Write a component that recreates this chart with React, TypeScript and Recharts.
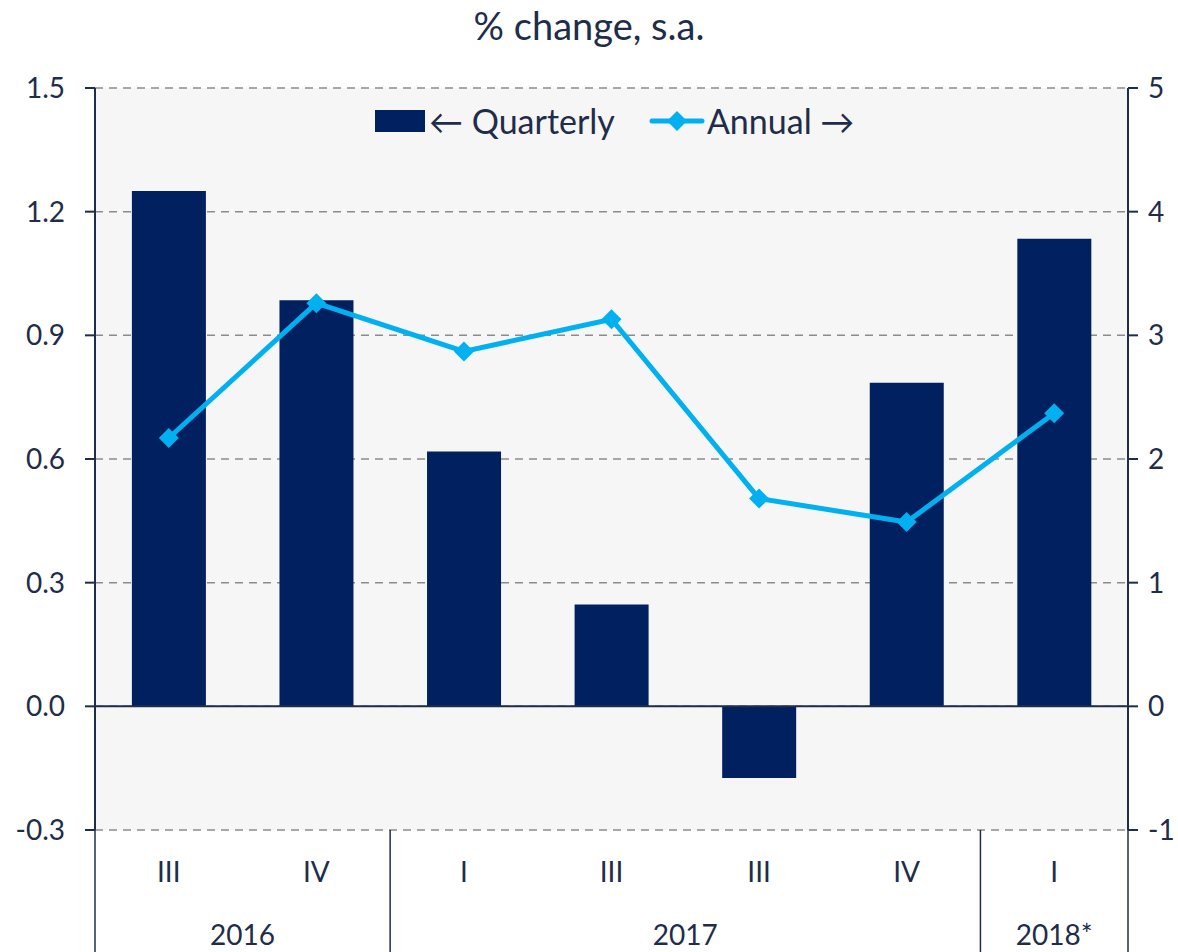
import React from 'react'
import {
  ComposedChart,
  Bar,
  Line,
  XAxis,
  YAxis,
  CartesianGrid,
  ReferenceLine,
} from 'recharts'

const quarters = ['III', 'IV', 'I', 'III', 'III', 'IV', 'I']
const quarterly = [1.25, 0.985, 0.618, 0.247, -0.174, 0.785, 1.134]
const annual = [2.17, 3.26, 2.87, 3.13, 1.68, 1.49, 2.37]
const years = [
  { label: '2016', start: 0, count: 2 },
  { label: '2017', start: 2, count: 4 },
  { label: '2018*', start: 6, count: 1 },
]
const leftTicks = [-0.3, 0, 0.3, 0.6, 0.9, 1.2, 1.5]
const rightTicks = [-1, 0, 1, 2, 3, 4, 5]

const data = quarters.map((q, i) => ({
  key: `${q}-${i}`,
  quarter: q,
  quarterly: quarterly[i],
  annual: annual[i],
}))

const FONT = 'Lato, "Open Sans", sans-serif'
const TEXT = '#1f2d4a'
const NAVY = '#002060'
const CYAN = '#00b0f0'
const AXIS = '#1f2d4a'

const CHART_W = 1178
const CHART_H = 952
const BANDS = quarters.length

function CategoryTick(props: any) {
  const { x, y, index } = props
  const band = props.payload?.offset ? props.payload.offset * 2 : 147.6
  const half = band / 2
  const yearGroup = years.find(g => g.start === index)
  return (
    <g>
      <text x={x} y={y + 52} textAnchor="middle" fontFamily={FONT} fontSize={28} fill={TEXT}>
        {quarters[index]}
      </text>
      {yearGroup && (
        <>
          <text
            x={x + ((yearGroup.count - 1) * band) / 2}
            y={y + 115}
            textAnchor="middle"
            fontFamily={FONT}
            fontSize={28}
            fill={TEXT}
          >
            {yearGroup.label}
          </text>
          <line x1={x - half} x2={x - half} y1={y} y2={CHART_H} stroke={AXIS} strokeWidth={1.5} />
        </>
      )}
      {index === BANDS - 1 && (
        <line x1={x + half} x2={x + half} y1={y} y2={CHART_H} stroke={AXIS} strokeWidth={1.5} />
      )}
    </g>
  )
}

function LegendBox() {
  const item: React.CSSProperties = {
    display: 'flex',
    alignItems: 'center',
    fontFamily: FONT,
    fontSize: 34,
    color: TEXT,
    lineHeight: 1,
  }
  return (
    <div
      style={{
        position: 'absolute',
        top: 104,
        left: 375,
        display: 'flex',
        gap: 34,
        zIndex: 2,
      }}
    >
      <div style={item}>
        <span style={{ width: 50, height: 22, background: NAVY, display: 'inline-block', marginRight: 4 }} />
        ← Quarterly
      </div>
      <div style={item}>
        <svg width={56} height={26} style={{ marginRight: 2 }}>
          <line x1={3} x2={53} y1={13} y2={13} stroke={CYAN} strokeWidth={5} strokeLinecap="round" />
          <polygon points="28,3 38,13 28,23 18,13" fill={CYAN} />
        </svg>
        Annual →
      </div>
    </div>
  )
}

function Diamond(props: any) {
  const { cx, cy } = props
  if (cx == null || cy == null) return null
  const r = 10
  return (
    <polygon points={`${cx},${cy - r} ${cx + r},${cy} ${cx},${cy + r} ${cx - r},${cy}`} fill={CYAN} />
  )
}

export default function App() {
  return (
    <div style={{ position: 'absolute', left: 0, top: 0, width: CHART_W, height: CHART_H, background: '#fff' }}>
      <div
        style={{
          position: 'absolute',
          top: 2,
          left: 0,
          width: CHART_W,
          textAlign: 'center',
          fontFamily: FONT,
          fontSize: 38,
          color: TEXT,
          zIndex: 2,
        }}
      >
        % change, s.a.
      </div>
      <LegendBox />
      <ComposedChart
        width={CHART_W}
        height={CHART_H}
        data={data}
        margin={{ top: 88, right: 0, bottom: 0, left: 0 }}
        barCategoryGap="25%"
      >
        <CartesianGrid
          vertical={false}
          stroke="#8c8c8c"
          strokeDasharray="8 6"
          strokeWidth={1.5}
          fill="#f6f6f6"
          yAxisId="left"
        />
        <XAxis
          dataKey="key"
          height={122}
          axisLine={false}
          tickLine={false}
          tickSize={0}
          tickMargin={0}
          interval={0}
          tick={<CategoryTick />}
        />
        <YAxis
          yAxisId="left"
          orientation="left"
          width={95}
          domain={[-0.3, 1.5]}
          ticks={leftTicks}
          interval={0}
          allowDataOverflow
          tickFormatter={(v: number) => v.toFixed(1)}
          axisLine={{ stroke: AXIS, strokeWidth: 2 }}
          tickLine={{ stroke: AXIS, strokeWidth: 2 }}
          tickSize={10}
          tickMargin={20}
          tick={{ fontFamily: FONT, fontSize: 28, fill: TEXT }}
        />
        <YAxis
          yAxisId="right"
          orientation="right"
          width={50}
          domain={[-1, 5]}
          ticks={rightTicks}
          interval={0}
          allowDataOverflow
          axisLine={{ stroke: AXIS, strokeWidth: 2 }}
          tickLine={{ stroke: AXIS, strokeWidth: 2 }}
          tickSize={10}
          tickMargin={10}
          tick={{ fontFamily: FONT, fontSize: 28, fill: TEXT, textAnchor: 'start' }}
        />
        <Bar yAxisId="left" dataKey="quarterly" fill={NAVY} isAnimationActive={false} />
        <ReferenceLine yAxisId="left" y={0} stroke={AXIS} strokeWidth={2} />
        <Line
          yAxisId="right"
          dataKey="annual"
          stroke={CYAN}
          strokeWidth={5}
          dot={<Diamond />}
          activeDot={false}
          isAnimationActive={false}
        />
      </ComposedChart>
    </div>
  )
}
